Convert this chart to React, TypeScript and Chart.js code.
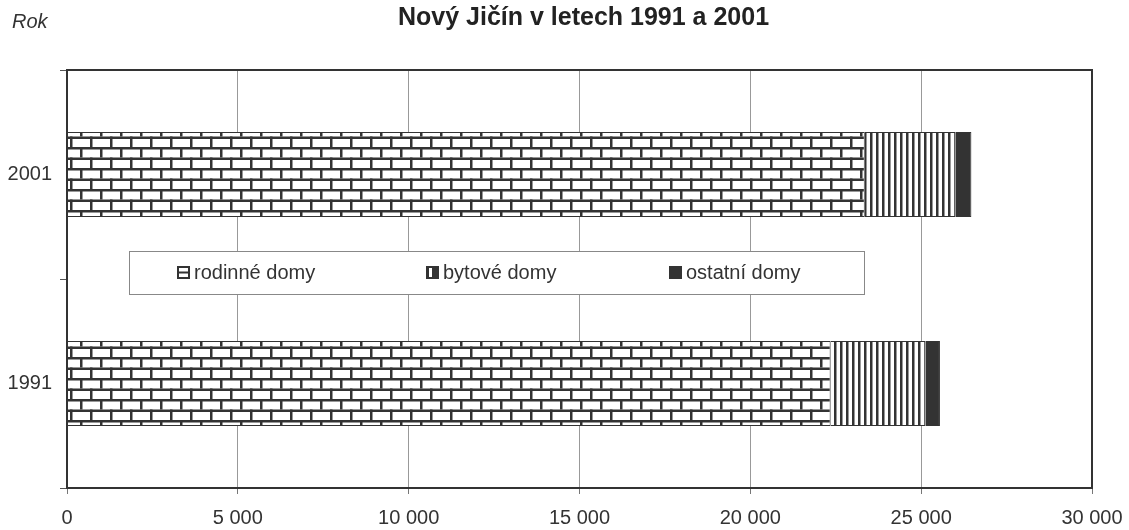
import React, { useEffect, useRef } from "react";
import { Chart, registerables } from "chart.js";

Chart.register(...registerables);

const categories = ["2001", "1991"];
const rodinneDomy = [23350, 22350];
const bytoveDomy = [2660, 2780];
const ostatniDomy = [460, 420];
const seriesNames = ["rodinné domy", "bytové domy", "ostatní domy"];
const xMin = 0;
const xMax = 30000;
const xStep = 5000;
const titleText = "Nový Jičín v letech 1991 a 2001";
const yAxisTitle = "Rok";

const FONT = "'Liberation Sans', Arial, sans-serif";
const INK = "#333333";

function fmt(v: number): string {
  return String(v).replace(/\B(?=(\d{3})+(?!\d))/g, " ");
}

function brickPattern(ctx: CanvasRenderingContext2D): CanvasPattern | string {
  const c = document.createElement("canvas");
  c.width = 20;
  c.height = 21;
  const g = c.getContext("2d")!;
  g.fillStyle = "#ffffff";
  g.fillRect(0, 0, 20, 21);
  g.fillStyle = INK;
  g.fillRect(0, 0, 20, 2.5);
  g.fillRect(0, 10.5, 20, 2.5);
  g.fillRect(0, 0, 2.5, 10.5);
  g.fillRect(10, 10.5, 2.5, 10.5);
  return ctx.createPattern(c, "repeat") || "#ffffff";
}

function stripePattern(ctx: CanvasRenderingContext2D): CanvasPattern | string {
  const c = document.createElement("canvas");
  c.width = 6;
  c.height = 6;
  const g = c.getContext("2d")!;
  g.fillStyle = "#ffffff";
  g.fillRect(0, 0, 6, 6);
  g.fillStyle = INK;
  g.fillRect(0, 0, 2.5, 6);
  return ctx.createPattern(c, "repeat") || "#ffffff";
}

const decorPlugin = {
  id: "decor",
  afterDraw(chart: any) {
    const ctx: CanvasRenderingContext2D = chart.ctx;
    const a = chart.chartArea;
    ctx.save();
    // plot frame
    ctx.strokeStyle = INK;
    ctx.lineWidth = 2;
    ctx.strokeRect(a.left, a.top, a.right - a.left, a.bottom - a.top);

    // title
    ctx.fillStyle = "#222222";
    ctx.font = `bold 25px ${FONT}`;
    ctx.textAlign = "center";
    ctx.textBaseline = "middle";
    ctx.fillText(titleText, (a.left + a.right) / 2 + 4, 18);

    // axis title
    ctx.font = `italic 20px ${FONT}`;
    ctx.textAlign = "left";
    ctx.fillStyle = INK;
    ctx.fillText(yAxisTitle, 12, 22);

    // legend box
    const lx = 129, ly = 251, lw = 735, lh = 43;
    ctx.fillStyle = "#ffffff";
    ctx.fillRect(lx, ly, lw, lh);
    ctx.strokeStyle = "#888888";
    ctx.lineWidth = 1;
    ctx.strokeRect(lx + 0.5, ly + 0.5, lw, lh);

    const items = [177, 426, 669];
    const cy = ly + lh / 2;
    ctx.font = `20px ${FONT}`;
    ctx.textBaseline = "middle";
    items.forEach((x, i) => {
      const s = 13;
      const sy = cy - s / 2;
      if (i === 0) {
        ctx.fillStyle = "#ffffff";
        ctx.fillRect(x, sy, s, s);
        ctx.strokeStyle = INK;
        ctx.lineWidth = 2;
        ctx.strokeRect(x + 1, sy + 1, s - 2, s - 2);
        ctx.fillStyle = INK;
        ctx.fillRect(x, sy + s / 2 - 1, s, 2);
      } else if (i === 1) {
        ctx.fillStyle = INK;
        ctx.fillRect(x, sy, s, s);
        ctx.fillStyle = "#ffffff";
        ctx.fillRect(x + 3, sy + 2, 3, s - 4);
      } else {
        ctx.fillStyle = INK;
        ctx.fillRect(x, sy, s, s);
      }
      ctx.fillStyle = INK;
      ctx.fillText(seriesNames[i], x + s + 4, cy + 1);
    });
    ctx.restore();
  },
};

export default function App() {
  const ref = useRef<HTMLCanvasElement | null>(null);

  useEffect(() => {
    const canvas = ref.current!;
    const ctx = canvas.getContext("2d")!;
    const chart = new Chart(ctx, {
      type: "bar",
      data: {
        labels: categories,
        datasets: [
          {
            label: seriesNames[0],
            data: rodinneDomy,
            backgroundColor: brickPattern(ctx) as any,
            borderColor: INK,
            borderWidth: 1,
          },
          {
            label: seriesNames[1],
            data: bytoveDomy,
            backgroundColor: stripePattern(ctx) as any,
            borderColor: INK,
            borderWidth: 1,
          },
          {
            label: seriesNames[2],
            data: ostatniDomy,
            backgroundColor: INK,
            borderColor: INK,
            borderWidth: 1,
          },
        ],
      },
      options: {
        indexAxis: "y",
        animation: false,
        responsive: false,
        maintainAspectRatio: false,
        datasets: {
          bar: {
            categoryPercentage: 85 / 209,
            barPercentage: 1,
          },
        },
        layout: { padding: { top: 70, right: 37, left: 0, bottom: 0 } },
        plugins: {
          legend: { display: false },
          title: { display: false },
          tooltip: { enabled: false },
        },
        scales: {
          x: {
            type: "linear",
            stacked: true,
            min: xMin,
            max: xMax,
            border: { display: false },
            grid: {
              color: "#999999",
              lineWidth: 1,
              tickLength: 6,
              tickColor: "#777777",
            },
            ticks: {
              stepSize: xStep,
              color: INK,
              font: { family: FONT, size: 20 },
              padding: 12,
              maxRotation: 0,
              callback: (v: any) => fmt(Number(v)),
            },
            afterFit: (s: any) => {
              s.height = 42;
              s.paddingLeft = 0;
              s.paddingRight = 0;
            },
          },
          y: {
            type: "category",
            stacked: true,
            border: { display: false },
            grid: {
              offset: true,
              drawOnChartArea: false,
              tickLength: 7,
              tickColor: "#555555",
            },
            ticks: {
              color: INK,
              font: { family: FONT, size: 20 },
              padding: 8,
            },
            afterFit: (s: any) => {
              s.width = 67;
            },
          },
        },
      },
      plugins: [decorPlugin],
    });
    return () => chart.destroy();
  }, []);

  return (
    <div style={{ position: "fixed", left: 0, top: 0, width: 1129, height: 530, background: "#ffffff" }}>
      <canvas ref={ref} width={1129} height={530} style={{ display: "block" }} />
    </div>
  );
}
